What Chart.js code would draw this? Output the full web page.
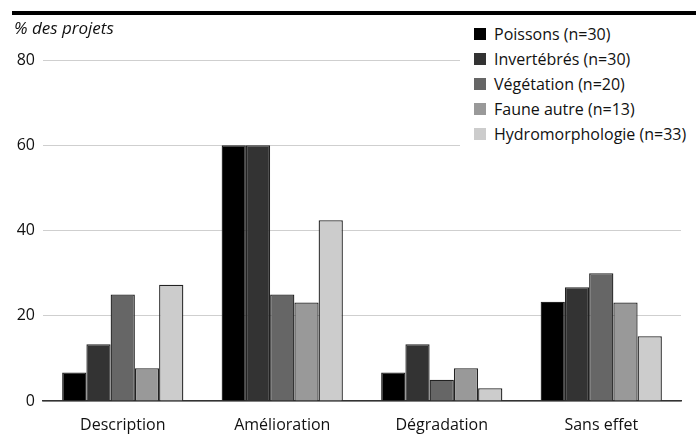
<!DOCTYPE html>
<html>
<head>
<meta charset="utf-8">
<script src="https://cdn.jsdelivr.net/npm/chart.js@4"></script>
<style>
  body { margin: 0; background: #fff; font-family: "Open Sans", sans-serif; }
  #wrap { position: relative; width: 696px; height: 439px; }
  #topline { position: absolute; left: 12px; right: 0; top: 11px; height: 4px; background: #000; }
  #ylabel { position: absolute; left: 14px; top: 16px; font-style: italic; font-size: 17px; color: #111; }
  #legend { position: absolute; left: 460px; top: 20px; width: 236px; background: #fff; padding: 1px 0; }
  .item { display: flex; align-items: center; height: 25.2px; font-size: 16px; color: #111; }
  .box { width: 12px; height: 12px; margin-left: 14px; margin-right: 8px; }
</style>
</head>
<body>
<div id="wrap">
  <canvas id="chart" width="696" height="439"></canvas>
  <div id="topline"></div>
  <div id="ylabel">% des projets</div>
  <div id="legend"></div>
</div>
<script>
const categories = ['Description', 'Amélioration', 'Dégradation', 'Sans effet'];
const seriesNames = ['Poissons (n=30)', 'Invertébrés (n=30)', 'Végétation (n=20)', 'Faune autre (n=13)', 'Hydromorphologie (n=33)'];
const poissons = [6.7, 60, 6.7, 23.3];
const invertebres = [13.3, 60, 13.3, 26.7];
const vegetation = [25, 25, 5, 30];
const fauneAutre = [7.7, 23.1, 7.7, 23.1];
const hydromorphologie = [27.3, 42.4, 3.0, 15.2];
const yTicks = [0, 20, 40, 60, 80];

const colors = ['#000000', '#333333', '#666666', '#999999', '#cccccc'];
const values = [poissons, invertebres, vegetation, fauneAutre, hydromorphologie];

const datasets = seriesNames.map((name, i) => ({
    label: name,
    data: values[i],
    backgroundColor: colors[i],
    borderColor: '#222',
    borderWidth: 1.3,
    categoryPercentage: 0.76,
    barPercentage: 1.0
}));

// html legend
const legendEl = document.getElementById('legend');
seriesNames.forEach((name, i) => {
    const row = document.createElement('div');
    row.className = 'item';
    row.innerHTML = '<span class="box" style="background:' + colors[i] + '"></span>' + name;
    legendEl.appendChild(row);
});

Chart.defaults.font.family = '"Open Sans", sans-serif';
Chart.defaults.color = '#111';

new Chart(document.getElementById('chart').getContext('2d'), {
    type: 'bar',
    data: { labels: categories, datasets: datasets },
    options: {
        responsive: false,
        animation: false,
        layout: { padding: { top: 60, right: 15, left: 0, bottom: 0 } },
        plugins: { legend: { display: false }, tooltip: { enabled: false } },
        scales: {
            x: {
                grid: { display: false },
                border: { color: '#333', width: 1.5 },
                ticks: { font: { size: 16 }, padding: 7 },
                afterFit: s => { s.height = 38; }
            },
            y: {
                min: 0,
                max: 80,
                afterBuildTicks: s => { s.ticks = yTicks.map(v => ({ value: v })); },
                grid: { color: '#cfcfcf', drawTicks: false },
                border: { display: false },
                ticks: { font: { size: 16 }, padding: 8 },
                afterFit: s => { s.width = 43; }
            }
        }
    }
});
</script>
</body>
</html>
